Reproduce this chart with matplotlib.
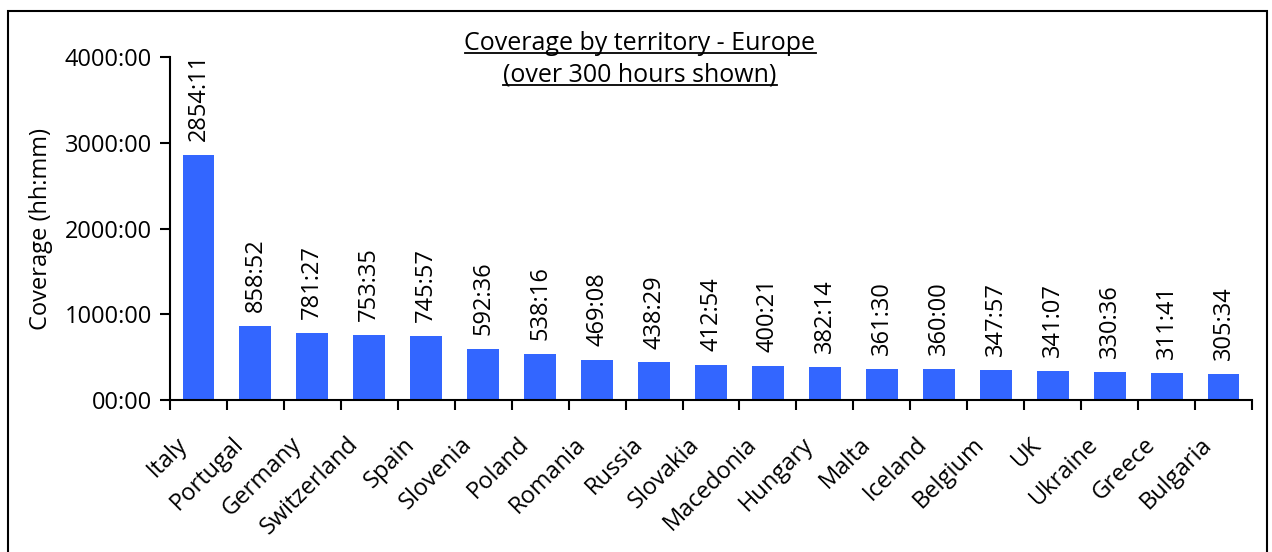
import matplotlib
matplotlib.use("Agg")
import matplotlib.pyplot as plt
import matplotlib.transforms as mtransforms
from matplotlib.patches import Rectangle
from matplotlib.lines import Line2D
import numpy as np

plt.rcParams['font.family'] = ['Open Sans', 'DejaVu Sans']

# Datos: horas de cobertura por territorio (hh:mm)
territorios = ["Italy", "Portugal", "Germany", "Switzerland", "Spain", "Slovenia",
               "Poland", "Romania", "Russia", "Slovakia", "Macedonia", "Hungary",
               "Malta", "Iceland", "Belgium", "UK", "Ukraine", "Greece", "Bulgaria"]
cobertura = ["2854:11", "858:52", "781:27", "753:35", "745:57", "592:36",
             "538:16", "469:08", "438:29", "412:54", "400:21", "382:14",
             "361:30", "360:00", "347:57", "341:07", "330:36", "311:41", "305:34"]
ticks_y = [0, 1000, 2000, 3000, 4000]
etiquetas_y = ["00:00", "1000:00", "2000:00", "3000:00", "4000:00"]


def a_horas(txt):
    h, m = txt.split(":")
    return int(h) + int(m) / 60


horas = [a_horas(c) for c in cobertura]

fig = plt.figure(figsize=(12.72, 5.52), dpi=100)
ax = fig.add_axes([170 / 1272, 1 - 400 / 552, 1082 / 1272, 343 / 552])

x = np.arange(len(territorios))
ax.bar(x, horas, width=0.56, color='#3366FF')

for xi, h, c in zip(x, horas, cobertura):
    ax.annotate(c, (xi, h), xytext=(0, 10), textcoords='offset points',
                rotation=90, ha='center', va='bottom', fontsize=17)

# Etiquetas de categoria (giradas 45 grados, desplazadas a la izquierda)
trans_etiq = (mtransforms.blended_transform_factory(ax.transData, ax.transAxes)
              + mtransforms.ScaledTranslation(-15 / 100, -41 / 100, fig.dpi_scale_trans))
for xi, nombre in zip(x, territorios):
    ax.text(xi, 0, nombre, transform=trans_etiq, rotation=45, ha='right',
            va='center', rotation_mode='anchor', fontsize=17, clip_on=False)

ax.set_xlim(-0.5, len(territorios) - 0.5)
ax.set_ylim(0, 4000)
ax.set_yticks(ticks_y)
ax.set_yticklabels(etiquetas_y, fontsize=17)
ax.set_xticks([])
ax.set_xticks(np.arange(-0.5, len(territorios)), minor=True)
ax.tick_params(axis='x', which='minor', length=7, width=1.5, direction='out')
ax.tick_params(axis='y', length=7, width=1.5, direction='out', pad=6)
ax.set_ylabel("Coverage (hh:mm)", fontsize=17, labelpad=8)

for lado in ['top', 'right']:
    ax.spines[lado].set_visible(False)
for lado in ['left', 'bottom']:
    ax.spines[lado].set_linewidth(1.5)

# Marco exterior
fig.patches.append(Rectangle((8 / 1272, -0.1), 1259 / 1272, 1.1 - 11 / 552,
                             transform=fig.transFigure, fill=False,
                             edgecolor='black', linewidth=1.5))

# Titulo subrayado
titulos = ["Coverage by territory - Europe", "(over 300 hours shown)"]
ys = [1 - 44 / 552, 1 - 75 / 552]
textos = [fig.text(640 / 1272, y, t, ha='center', va='center', fontsize=18)
          for t, y in zip(titulos, ys)]
fig.canvas.draw()
renderer = fig.canvas.get_renderer()
inv = fig.transFigure.inverted()
for t in textos:
    bb = t.get_window_extent(renderer)
    (x0, y0), (x1, _) = inv.transform([(bb.x0, bb.y0), (bb.x1, bb.y1)])
    fig.lines.append(Line2D([x0, x1], [y0 + 3 / 552, y0 + 3 / 552],
                            transform=fig.transFigure, color='black', linewidth=1.3))

fig.savefig("out.png", dpi=100)
